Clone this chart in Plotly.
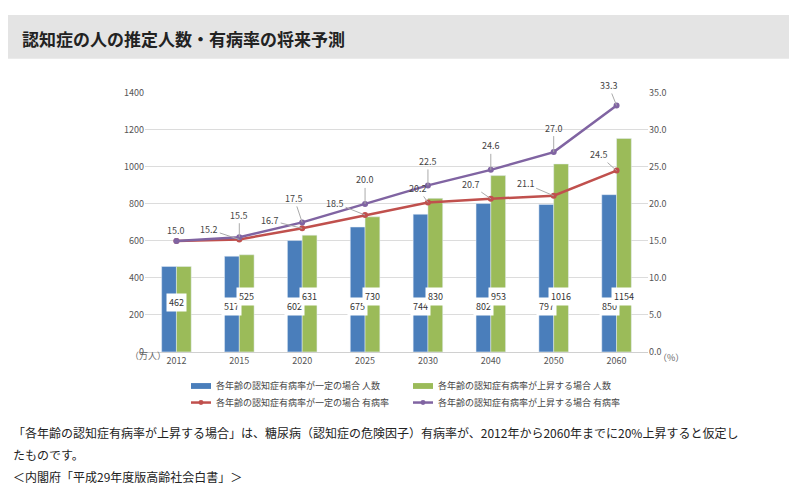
import plotly.graph_objects as go

years = ["2012", "2015", "2020", "2025", "2030", "2040", "2050", "2060"]
count_const = [462, 517, 602, 675, 744, 802, 797, 850]
count_rise = [462, 525, 631, 730, 830, 953, 1016, 1154]
rate_const = [15.0, 15.2, 16.7, 18.5, 20.2, 20.7, 21.1, 24.5]
rate_rise = [15.0, 15.5, 17.5, 20.0, 22.5, 24.6, 27.0, 33.3]

names = [
    "各年齢の認知症有病率が一定の場合 人数",
    "各年齢の認知症有病率が上昇する場合 人数",
    "各年齢の認知症有病率が一定の場合 有病率",
    "各年齢の認知症有病率が上昇する場合 有病率",
]
BLUE, GREEN, RED, PURPLE = "#4a7ebb", "#9bbb59", "#c0504d", "#8064a2"
FONT = "Noto Sans CJK JP"
W, H = 797, 495

fig = go.Figure()
fig.add_trace(go.Bar(x=years, y=count_const, name=names[0], marker_color=BLUE))
fig.add_trace(go.Bar(x=years, y=count_rise, name=names[1], marker_color=GREEN))
fig.add_trace(go.Scatter(x=years, y=rate_const, name=names[2], yaxis="y2",
                         mode="lines+markers", line=dict(color=RED, width=2.5),
                         marker=dict(size=6)))
fig.add_trace(go.Scatter(x=years, y=rate_rise, name=names[3], yaxis="y2",
                         mode="lines+markers", line=dict(color=PURPLE, width=2.5),
                         marker=dict(size=6)))

ann = []
# bar value boxes
for i in range(len(years)):
    if i == 0:
        ann.append(dict(x=0, y=265, xref="x", yref="y", text=str(count_const[0]),
                        showarrow=False, bgcolor="white", borderpad=2,
                        font=dict(size=9, color="#333")))
        continue
    ann.append(dict(x=i - 0.117, y=245, xref="x", yref="y", text=str(count_const[i]),
                    showarrow=False, bgcolor="white", borderpad=2,
                    font=dict(size=9, color="#333")))
    ann.append(dict(x=i + 0.117, y=300, xref="x", yref="y", text=str(count_rise[i]),
                    showarrow=False, bgcolor="white", borderpad=2,
                    font=dict(size=9, color="#333")))

# line labels
red_off = [(0, 0), (-30, -10), (-32, -8), (-30, -12), (-10, -14), (-20, -14), (-28, -12), (-18, -16)]
for i, v in enumerate(rate_const):
    if i == 0:
        continue
    ann.append(dict(x=i, y=v, xref="x", yref="y2", text=f"{v:.1f}", ax=red_off[i][0],
                    ay=red_off[i][1], showarrow=True, arrowhead=0, arrowcolor="#aaa",
                    arrowwidth=1, font=dict(size=9, color="#444")))
pur_off = [(0, -14), (0, -22), (-8, -24), (0, -24), (0, -24), (0, -24), (0, -24), (-8, -20)]
for i, v in enumerate(rate_rise):
    ann.append(dict(x=i, y=v, xref="x", yref="y2", text=f"{v:.1f}", ax=pur_off[i][0],
                    ay=pur_off[i][1], showarrow=i > 0, arrowhead=0, arrowcolor="#aaa",
                    arrowwidth=1, font=dict(size=9, color="#444"),
                    yshift=10 if i == 0 else 0))

ann += [
    dict(x=120 / W, y=1 - 358 / H, xref="paper", yref="paper", text="（万人）",
         showarrow=False, font=dict(size=9, color="#666")),
    dict(x=678 / W, y=1 - 360 / H, xref="paper", yref="paper", text="（%）",
         showarrow=False, font=dict(size=9, color="#666")),
    dict(x=12 / W, y=1 - 24 / H, xref="paper", yref="paper", xanchor="left",
         text="<b>認知症の人の推定人数・有病率の将来予測</b>", showarrow=False,
         font=dict(size=17, color="#222", family=FONT), yanchor="middle"),
    dict(x=3 / W, y=1 - 440 / H, xref="paper", yref="paper", xanchor="left",
         text="「各年齢の認知症有病率が上昇する場合」は、糖尿病（認知症の危険因子）有病率が、2012年から2060年までに20%上昇すると仮定し",
         showarrow=False, font=dict(size=12, color="#222")),
    dict(x=3 / W, y=1 - 462 / H, xref="paper", yref="paper", xanchor="left",
         text="たものです。", showarrow=False, font=dict(size=12, color="#222")),
    dict(x=3 / W, y=1 - 485 / H, xref="paper", yref="paper", xanchor="left",
         text="＜内閣府「平成29年度版高齢社会白書」＞", showarrow=False,
         font=dict(size=12, color="#222")),
]

shapes = [dict(type="rect", xref="paper", yref="paper", x0=0, x1=1,
               y0=1 - 45 / H, y1=1, fillcolor="#e4e4e4", line_width=0, layer="below")]

# manual legend, 2 x 2
leg_pos = [(183, 381), (405, 381), (183, 398), (405, 398)]
leg_col = [BLUE, GREEN, RED, PURPLE]
for k, (lx, ly) in enumerate(leg_pos):
    yy = 1 - ly / H
    if k < 2:
        shapes.append(dict(type="rect", xref="paper", yref="paper", x0=lx / W,
                           x1=(lx + 20) / W, y0=yy - 3 / H, y1=yy + 3 / H,
                           fillcolor=leg_col[k], line_width=0))
    else:
        shapes.append(dict(type="line", xref="paper", yref="paper", x0=lx / W,
                           x1=(lx + 20) / W, y0=yy, y1=yy,
                           line=dict(color=leg_col[k], width=2.5)))
        shapes.append(dict(type="circle", xref="paper", yref="paper",
                           x0=(lx + 7.5) / W, x1=(lx + 12.5) / W, y0=yy - 2.5 / H,
                           y1=yy + 2.5 / H, fillcolor=leg_col[k], line_width=0))
    ann.append(dict(x=(lx + 23) / W, y=yy, xref="paper", yref="paper",
                    xanchor="left", yanchor="middle", text=names[k], showarrow=False,
                    font=dict(size=9, color="#444")))

fig.update_layout(
    width=W, height=H,
    margin=dict(l=0, r=0, t=0, b=0),
    paper_bgcolor="white", plot_bgcolor="white",
    font=dict(family=FONT, size=9, color="#555"),
    showlegend=False,
    barmode="group", bargap=0.53, bargroupgap=0,
    xaxis=dict(domain=[137 / W, 640 / W], showline=True, linecolor="#d0d0d0",
               ticks="", tickfont=dict(size=9, color="#555")),
    yaxis=dict(domain=[1 - 346 / H, 1 - 80 / H], range=[0, 1400], dtick=200,
               gridcolor="#dcdcdc", zeroline=False, tickfont=dict(size=9)),
    yaxis2=dict(overlaying="y", side="right", range=[0, 35], dtick=5,
                tickformat=".1f", showgrid=False, zeroline=False, tickfont=dict(size=9)),
    annotations=ann,
    shapes=shapes,
)

fig.write_html("out.html")
